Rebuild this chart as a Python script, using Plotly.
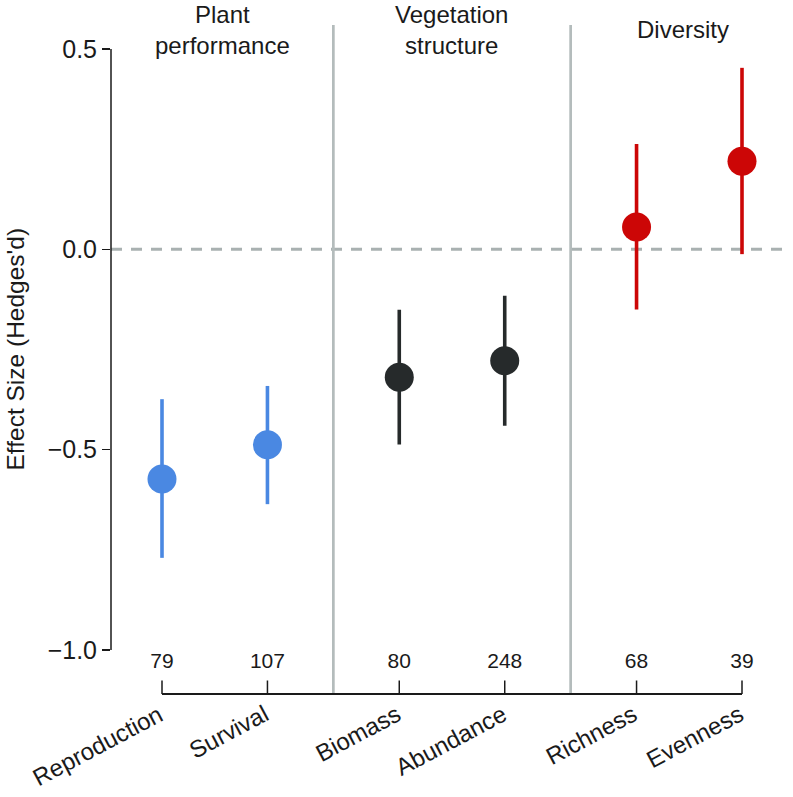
import plotly.graph_objects as go

# ---------------- data ----------------
categories = ["Reproduction", "Survival", "Biomass", "Abundance", "Richness", "Evenness"]
group_of = [0, 0, 1, 1, 2, 2]
group_names = ["Plant<br>performance", "Vegetation<br>structure", "Diversity"]
effect = [-0.573, -0.488, -0.319, -0.278, 0.056, 0.220]
ci_low = [-0.770, -0.636, -0.487, -0.440, -0.150, -0.012]
ci_high = [-0.374, -0.341, -0.151, -0.116, 0.263, 0.453]
n_studies = [79, 107, 80, 248, 68, 39]
y_ticks = [-1.0, -0.5, 0.0, 0.5]
y_ticktext = ["\u22121.0", "\u22120.5", "0.0", "0.5"]

# ---------------- layout geometry (page pixels; body margin removed) ----------------
W, H = 793, 797
PL, PT, PB, PR = 111, 25, 706, 793   # plot area in page pixels
L, T = PL, PT
R = W - PR
B = H - PB
group_colors = ["#4a88e2", "#262a2b", "#cc0606"]
FONT = "Liberation Sans, Arial, Helvetica, sans-serif"

# x positions: unit step within a group, 1.25 between groups
xpos = []
cur = 1.0
for i, g in enumerate(group_of):
    if i > 0:
        cur += 1.0 if g == group_of[i - 1] else 1.25
    xpos.append(cur)

px_per_x = (742 - 162) / (xpos[-1] - xpos[0])
x_min = xpos[0] - (162 - PL) / px_per_x
x_max = x_min + (PR - PL) / px_per_x

px_per_y = (650 - 49) / 1.5
plot_h = PB - PT
y_max = 0.5 + (49 - PT) / px_per_y
y_min = y_max - plot_h / px_per_y


def ypx(p):
    """data value at page pixel row p"""
    return y_max - (p - PT) / px_per_y


def xpx(p):
    return x_min + (p - PL) / px_per_x


fig = go.Figure()

# points with CIs, one trace per group
for g in range(3):
    idx = [i for i in range(len(categories)) if group_of[i] == g]
    fig.add_trace(go.Scatter(
        x=[xpos[i] for i in idx],
        y=[effect[i] for i in idx],
        mode="markers",
        marker=dict(size=29, color=group_colors[g], line=dict(width=0)),
        error_y=dict(type="data", symmetric=False,
                     array=[ci_high[i] - effect[i] for i in idx],
                     arrayminus=[effect[i] - ci_low[i] for i in idx],
                     color=group_colors[g], thickness=3.6, width=0),
        hoverinfo="skip",
        showlegend=False,
    ))

# sample sizes
fig.add_trace(go.Scatter(
    x=xpos, y=[ypx(663)] * len(xpos), mode="text",
    text=[str(n) for n in n_studies], textposition="middle center",
    textfont=dict(family=FONT, size=21, color="#1a1a1a"),
    hoverinfo="skip", showlegend=False,
))

shapes = []
# zero dashed line
shapes.append(dict(type="line", xref="x", yref="y", x0=x_min, x1=xpx(787), y0=0, y1=0,
                   line=dict(color="#a9b1b1", width=3, dash="11px,9px"), layer="below"))
# group separators
y_axis_line = ypx(694)
for i in range(1, len(categories)):
    if group_of[i] != group_of[i - 1]:
        xs = (xpos[i] + xpos[i - 1]) / 2
        shapes.append(dict(type="line", xref="x", yref="y", x0=xs, x1=xs,
                           y0=y_axis_line, y1=y_max,
                           line=dict(color="#b4bcbc", width=2.7), layer="below"))
# y axis line
shapes.append(dict(type="line", xref="paper", yref="y", x0=0, x1=0, y0=-1.0, y1=0.5,
                   line=dict(color="#1a1a1a", width=1.5)))
# x axis line + upward ticks
shapes.append(dict(type="line", xref="x", yref="y", x0=xpos[0], x1=xpos[-1],
                   y0=y_axis_line, y1=y_axis_line,
                   line=dict(color="#1a1a1a", width=1.8)))
for xv in xpos:
    shapes.append(dict(type="line", xref="x", yref="y", x0=xv, x1=xv,
                       y0=y_axis_line, y1=ypx(680.5),
                       line=dict(color="#1a1a1a", width=1.5)))

annotations = []
# category labels
for xv, name in zip(xpos, categories):
    annotations.append(dict(x=xv, y=ypx(697), xref="x", yref="y", text=name,
                            showarrow=False, textangle=-28, xanchor="right", yanchor="top",
                            xshift=8, font=dict(family=FONT, size=24, color="#1a1a1a")))
# group titles (block centre in page pixels)
group_centers_px = [222, 451.5, 683]
for name, cx in zip(group_names, group_centers_px):
    cy = 30 if "<br>" in name else 29
    annotations.append(dict(x=xpx(cx), y=1 + (PT - cy) / plot_h, xref="x", yref="paper",
                            text=name, showarrow=False, xanchor="center", yanchor="middle",
                            font=dict(family=FONT, size=24, color="#1a1a1a")))
# y title
annotations.append(dict(x=0, xref="paper", xshift=-(PL - 15), y=-0.25, yref="y",
                        text="Effect Size (Hedges'd)", textangle=-90, showarrow=False,
                        xanchor="center", yanchor="middle", borderpad=0,
                        font=dict(family=FONT, size=24.5, color="#1a1a1a")))

fig.update_layout(
    width=W, height=H,
    margin=dict(l=L, r=R, t=T, b=B, pad=0),
    paper_bgcolor="white", plot_bgcolor="white",
    showlegend=False,
    shapes=shapes, annotations=annotations,
    xaxis=dict(range=[x_min, x_max], visible=False, fixedrange=True),
    yaxis=dict(range=[y_min, y_max], tickvals=y_ticks, ticktext=y_ticktext,
               ticks="outside", ticklen=8, tickwidth=1.5, tickcolor="#1a1a1a",
               showline=False, showgrid=False, zeroline=False,
               tickfont=dict(family=FONT, size=25, color="#1a1a1a"), fixedrange=True),
)

fig.write_html("out.html", config={"displayModeBar": False, "staticPlot": True},
               post_script="document.body.style.margin='0';")
